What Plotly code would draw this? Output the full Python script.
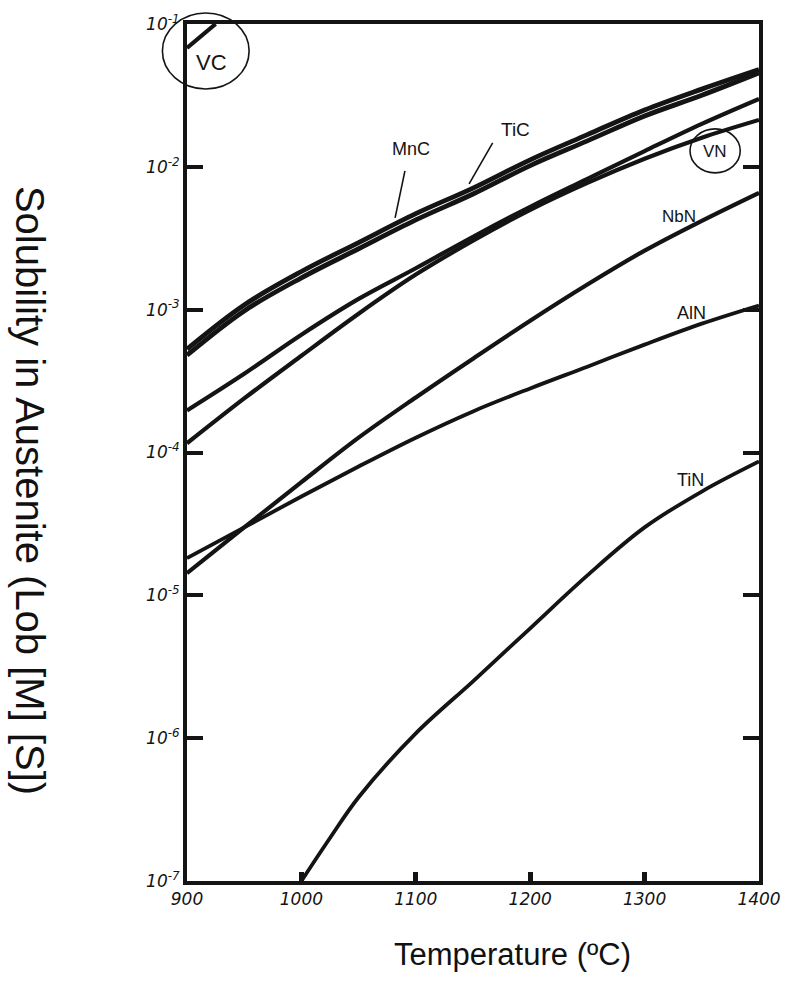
import math
import plotly.graph_objects as go

# Temperature grid (deg C) shared by most curves
temps = [900, 950, 1000, 1050, 1100, 1150, 1200, 1250, 1300, 1350, 1400]

# Solubility products [M][X] in austenite
mnc = [5.3e-4, 1.08e-3, 1.85e-3, 2.95e-3, 4.7e-3, 7.1e-3, 1.12e-2, 1.68e-2, 2.5e-2, 3.5e-2, 4.8e-2]
tic = [4.8e-4, 9.8e-4, 1.67e-3, 2.67e-3, 4.25e-3, 6.45e-3, 1.02e-2, 1.52e-2, 2.27e-2, 3.17e-2, 4.55e-2]
unlabelled = [1.97e-4, 3.56e-4, 6.68e-4, 1.19e-3, 1.95e-3, 3.24e-3, 5.25e-3, 8.24e-3, 1.29e-2, 2.0e-2, 2.99e-2]
vn = [1.16e-4, 2.39e-4, 4.76e-4, 9.37e-4, 1.76e-3, 3.04e-3, 5.0e-3, 7.73e-3, 1.14e-2, 1.6e-2, 2.13e-2]
nbn = [1.43e-5, 2.99e-5, 6.2e-5, 1.27e-4, 2.43e-4, 4.54e-4, 8.37e-4, 1.5e-3, 2.59e-3, 4.19e-3, 6.58e-3]
aln = [1.82e-5, 2.99e-5, 4.92e-5, 7.98e-5, 1.27e-4, 1.94e-4, 2.81e-4, 3.99e-4, 5.69e-4, 7.98e-4, 1.07e-3]

temps_tin = [1000, 1025, 1050, 1100, 1150, 1200, 1250, 1300, 1350, 1400]
tin = [1.0e-7, 2.0e-7, 3.86e-7, 1.08e-6, 2.5e-6, 5.88e-6, 1.38e-5, 2.99e-5, 5.33e-5, 8.65e-5]

temps_vc = [900, 925]
vc = [6.8e-2, 1.0e-1]

x_ticks = [900, 1000, 1100, 1200, 1300, 1400]
y_ticks = [1e-7, 1e-6, 1e-5, 1e-4, 1e-3, 1e-2, 1e-1]
y_ticktext = ["10<sup>-7</sup>", "10<sup>-6</sup>", "10<sup>-5</sup>", "10<sup>-4</sup>",
              "10<sup>-3</sup>", "10<sup>-2</sup>", "10<sup>-1</sup>"]

INK = "#141414"
HAND = "Liberation Sans Narrow, Liberation Sans, DejaVu Sans"

T_MIN, T_MAX = 900, 1400
LOG_MIN, LOG_MAX = -7, -1


def paper_x(t):
    return (t - T_MIN) / (T_MAX - T_MIN)


def paper_y(log_v):
    return (log_v - LOG_MIN) / (LOG_MAX - LOG_MIN)


fig = go.Figure()

curves = [
    ("MnC", temps, mnc, 4.8),
    ("TiC", temps, tic, 4.8),
    ("unlabelled", temps, unlabelled, 4.2),
    ("VN", temps, vn, 4.2),
    ("NbN", temps, nbn, 4.2),
    ("AlN", temps, aln, 3.8),
    ("TiN", temps_tin, tin, 3.8),
    ("VC", temps_vc, vc, 4.2),
]
for name, xs, ys, w in curves:
    fig.add_trace(go.Scatter(
        x=xs, y=ys, mode="lines", name=name,
        line=dict(color=INK, width=w, shape="spline", smoothing=1.0),
        showlegend=False, hoverinfo="skip",
    ))

# Curve labels: (text, temperature, log10 value, font size)
labels = [
    ("MnC", 1095.7, -1.874, 18),
    ("TiC", 1187.1, -1.741, 19),
    ("VN", 1361.2, -1.895, 17),
    ("VC", 921.6, -1.273, 22),
    ("NbN", 1330.2, -2.350, 17),
    ("AlN", 1341.4, -3.020, 18),
    ("TiN", 1340.5, -4.189, 18),
]
for text, t, lv, size in labels:
    fig.add_annotation(
        x=t, y=lv, xref="x", yref="y", text=text, showarrow=False,
        font=dict(family=HAND, size=size, color=INK),
    )

# Leader lines from the MnC and TiC labels to their curves
leaders = [
    (1090.5, -2.028, 1081.9, -2.357),
    (1167.2, -1.832, 1146.6, -2.119),
]
for t0, l0, t1, l1 in leaders:
    fig.add_shape(
        type="line", xref="paper", yref="paper",
        x0=paper_x(t0), y0=paper_y(l0), x1=paper_x(t1), y1=paper_y(l1),
        line=dict(color=INK, width=1.6),
    )

# Rings drawn round the VC and VN labels
rings = [
    (878.5, 954.3, -1.455, -0.923),
    (1339.7, 1383.6, -2.042, -1.734),
]
for t0, t1, l0, l1 in rings:
    fig.add_shape(
        type="circle", xref="paper", yref="paper",
        x0=paper_x(t0), x1=paper_x(t1), y0=paper_y(l0), y1=paper_y(l1),
        line=dict(color=INK, width=1.6),
    )

# Axis titles
fig.add_annotation(
    x=-0.274, y=0.456, xref="paper", yref="paper", xanchor="center", yanchor="middle",
    text="Solubility in Austenite (Lob [M] [S])", textangle=90, showarrow=False,
    font=dict(family="Liberation Sans, Arial", size=40, color="#111"),
)
fig.add_annotation(
    x=0.569, y=-0.086, xref="paper", yref="paper", xanchor="center", yanchor="middle",
    text="Temperature (ºC)", showarrow=False,
    font=dict(family="Liberation Sans, Arial", size=31, color="#111"),
)

fig.update_xaxes(
    range=[T_MIN, T_MAX], tickvals=x_ticks, ticktext=[str(v) for v in x_ticks],
    ticks="inside", ticklen=9, tickwidth=5, tickcolor=INK,
    showline=True, linewidth=4, linecolor=INK, mirror=True,
    showgrid=False, zeroline=False,
    tickfont=dict(family="DejaVu Sans", size=17, color=INK, style="italic"),
)
fig.update_yaxes(
    type="log", range=[LOG_MIN, LOG_MAX], tickvals=y_ticks, ticktext=y_ticktext,
    ticks="inside", ticklen=16, tickwidth=4, tickcolor=INK,
    showline=True, linewidth=4, linecolor=INK, mirror="ticks",
    showgrid=False, zeroline=False,
    tickfont=dict(family="DejaVu Sans", size=17, color=INK, style="italic"),
)

fig.update_layout(
    width=793, height=1007,
    margin=dict(l=187, r=26, t=23, b=126),
    paper_bgcolor="white", plot_bgcolor="white",
    showlegend=False,
)

fig.write_html("out.html")
